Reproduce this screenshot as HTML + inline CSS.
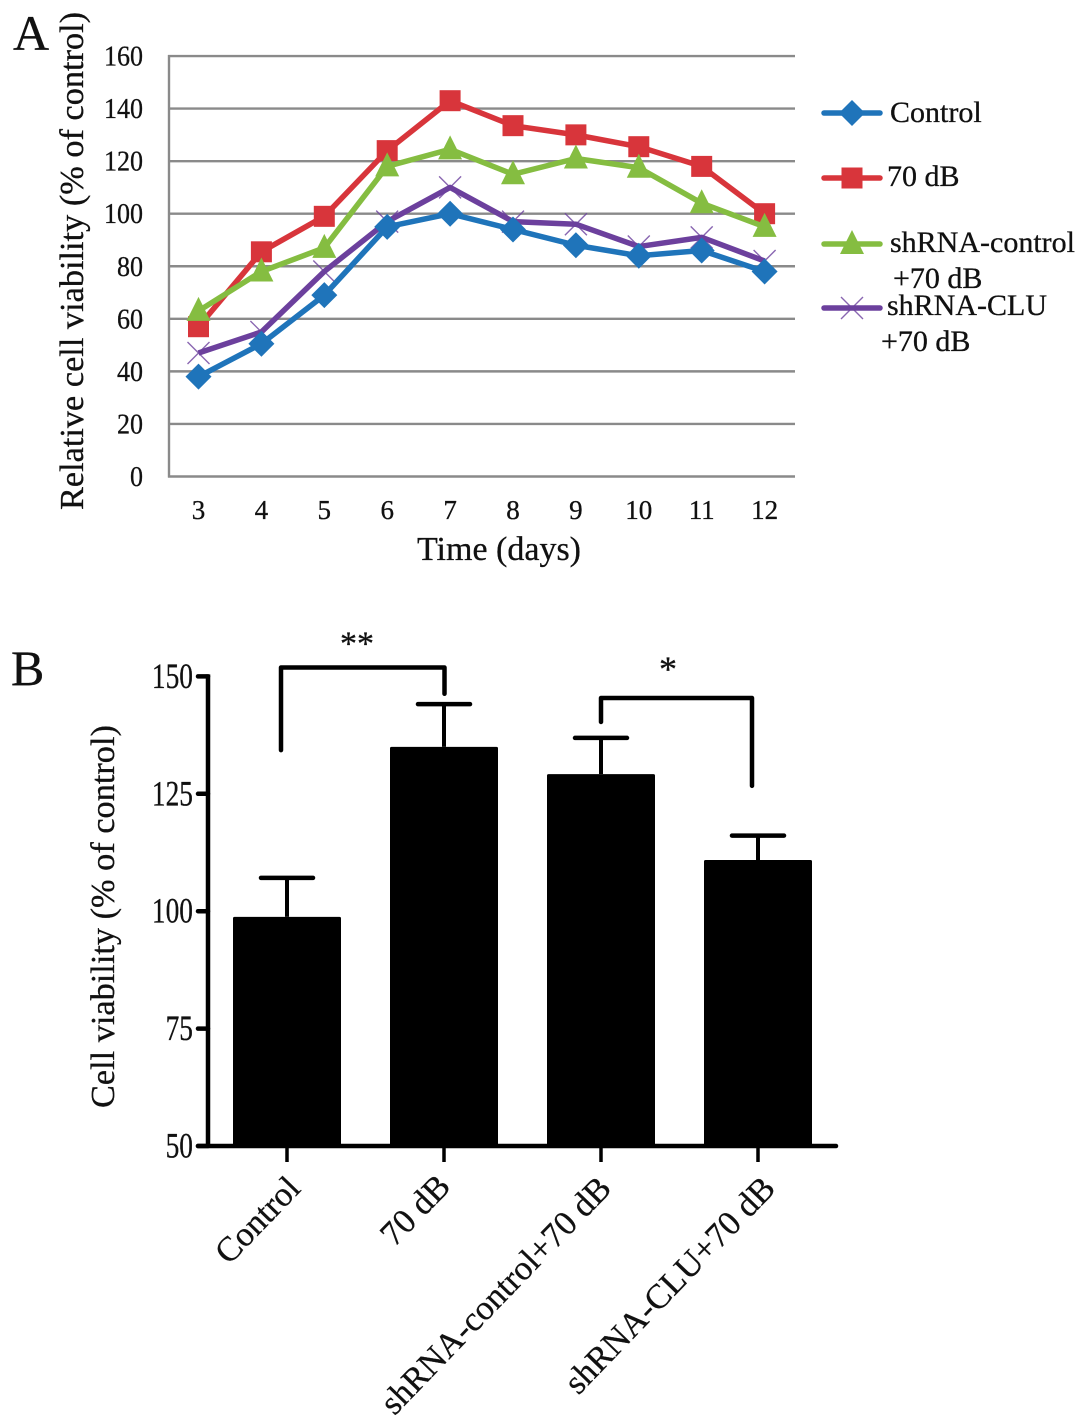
<!DOCTYPE html>
<html lang="en">
<head>
<meta charset="utf-8">
<title>Cell viability charts</title>
<style>
html,body{margin:0;padding:0;background:#fff;}
svg{display:block;}
text{font-family:"Liberation Serif",serif;fill:#111;stroke:#111;stroke-width:.3px;}
</style>
</head>
<body>
<svg id="figure" width="1087" height="1422" viewBox="0 0 1087 1422" xmlns="http://www.w3.org/2000/svg">
  <rect width="1087" height="1422" fill="#fff"/>
  <text x="13" y="50" font-size="50">A</text>
  <text x="11" y="685" font-size="50">B</text>
  <text transform="translate(83,510) rotate(-90)" font-size="34.3">Relative cell viability (% of control)</text>
  <text x="499" y="560" font-size="34" text-anchor="middle">Time (days)</text>
  <text transform="translate(114,1108) rotate(-90)" font-size="34.3">Cell viability (% of control)</text>
  <g id="panelA"></g>
  <g id="panelB"></g>
</svg>
<script>
// Panel A data
const dayLabels = ['3','4','5','6','7','8','9','10','11','12'];
const viabilityTicks = [0,20,40,60,80,100,120,140,160];
const controlValues = [38,50.5,69,95,100,94,88,84,86,78];
const db70Values = [57,85.5,99,124,143,133.5,130,125.5,118,100];
const shControlValues = [63,78,87,118,124.5,115,121,117.5,104,95];
const shCluValues = [47,55,78,97,110,97,96,87.5,91,82];

// Panel B data
const groupLabels = ['Control','70 dB','shRNA-control+70 dB','shRNA-CLU+70 dB'];
const groupMeans = [98.8,135,129.2,110.9];
const groupErrorTops = [107.1,144.1,136.9,116.1];
const barTicks = [50,75,100,125,150];
const bracketFromGroup = [0,2];
const bracketToGroup = [1,3];
const bracketTopValues = [151.9,145.4];
const bracketLeftEndValues = [134.3,140.3];
const bracketRightEndValues = [146.3,126.7];
const bracketMarks = ['**','*'];

const NS = 'http://www.w3.org/2000/svg';
function mk(tag, attrs, parent, txt){
  const el = document.createElementNS(NS, tag);
  for (const k in attrs) el.setAttribute(k, attrs[k]);
  if (txt !== undefined) el.textContent = txt;
  parent.appendChild(el);
  return el;
}

/* ---------- Panel A ---------- */
const gA = document.getElementById('panelA');
const xA = i => 198.5 + 62.9 * i;
const yA = v => 476.5 - v * 2.628;
const GRID = '#8a8a8a';

viabilityTicks.forEach(t => {
  const line = mk('line', {x1:168, x2:795, y1:yA(t), y2:yA(t), stroke:GRID, 'stroke-width':2.4}, gA);
  
  
  const s = String(t);
  const lab = mk('text', {x:143, y:yA(t)+9.5, 'font-size':28, 'text-anchor':'end', fill:'#1c1c3a', textLength:s.length*13, lengthAdjust:'spacingAndGlyphs'}, gA, s);
  
  
});
const axisA = mk('line', {x1:169, x2:169, y1:yA(160)-1, y2:yA(0)+1, stroke:GRID, 'stroke-width':2.4}, gA);



dayLabels.forEach((d,i) => {
  const lab = mk('text', {x:xA(i), y:519, 'font-size':27, 'text-anchor':'middle', fill:'#1c1c3a'}, gA, d);
  
  
});

function marker(kind, cx, cy, color, parent){
  let el;
  if (kind === 'diamond') {
    el = mk('polygon', {points:[cx,cy-13,cx+13,cy,cx,cy+13,cx-13,cy].join(' '), fill:color}, parent);
  } else if (kind === 'square') {
    el = mk('rect', {x:cx-10.5, y:cy-10.5, width:21, height:21, fill:color}, parent);
  } else if (kind === 'triangle') {
    el = mk('polygon', {points:[cx,cy-14,cx+12,cy+10,cx-12,cy+10].join(' '), fill:color}, parent);
  } else {
    el = mk('path', {d:`M${cx-11} ${cy-11}L${cx+11} ${cy+11}M${cx+11} ${cy-11}L${cx-11} ${cy+11}`, stroke:color, 'stroke-width':1.4, fill:'none', opacity:.8}, parent);
  }
  return el;
}

function drawSeries(name, values, color, kind){
  const g = mk('g', {}, gA);
  
  
  const line = mk('polyline', {points:values.map((v,i)=>xA(i)+','+yA(v)).join(' '), fill:'none', stroke:color, 'stroke-width':5.5, 'stroke-linejoin':'round'}, g);
  
  
  values.forEach((v,i) => {
    const m = marker(kind, xA(i), yA(v), color, g);
    
    
  });
}
const BLUE = '#1f74ba', RED = '#d8353b', GREEN = '#85bd41', PURPLE = '#6c409d';
drawSeries('shrna-clu', shCluValues, PURPLE, 'x');
drawSeries('db70', db70Values, RED, 'square');
drawSeries('shrna-control', shControlValues, GREEN, 'triangle');
drawSeries('control', controlValues, BLUE, 'diamond');

function legendEntry(name, y, color, kind, lines){
  const g = mk('g', {}, gA);
  
  
  const l = mk('line', {x1:824, x2:880, y1:y, y2:y, stroke:color, 'stroke-width':5.5, 'stroke-linecap':'round'}, g);
  
  
  const m = marker(kind, 852, y, color, g);
  
  
  lines.forEach(t => {
    const tx = mk('text', {x:t[0], y:t[1], 'font-size':30}, g, t[2]);
    
    
  });
}
legendEntry('legend-entry-control', 113, BLUE, 'diamond', [[890,122,'Control']]);
legendEntry('legend-entry-70-db', 178, RED, 'square', [[887,186,'70 dB']]);
legendEntry('legend-entry-shrna-control', 244, GREEN, 'triangle', [[890,252,'shRNA-control'],[893,288,'+70 dB']]);
legendEntry('legend-entry-shrna-clu', 308, PURPLE, 'x', [[887,315,'shRNA-CLU'],[881,351,'+70 dB']]);

/* ---------- Panel B ---------- */
const gB = document.getElementById('panelB');
const xB = i => 287 + 157 * i;
const yB = v => 1146 - (v - 50) * 4.696;

groupMeans.forEach((v,i) => {
  const bar = mk('rect', {x:xB(i)-54, y:yB(v), width:108, height:yB(50)-yB(v), rx:1.5, fill:'#000'}, gB);
  
  
  const stem = mk('line', {x1:xB(i), x2:xB(i), y1:yB(v), y2:yB(groupErrorTops[i]), stroke:'#000', 'stroke-width':4}, gB);
  
  
  const cap = mk('line', {x1:xB(i)-26, x2:xB(i)+26, y1:yB(groupErrorTops[i]), y2:yB(groupErrorTops[i]), stroke:'#000', 'stroke-width':4.5, 'stroke-linecap':'round'}, gB);
  
  
});

const axisBY = mk('line', {x1:208, x2:208, y1:yB(150)-2, y2:yB(50)+2, stroke:'#000', 'stroke-width':4.5}, gB);


const axisBX = mk('line', {x1:198, x2:836, y1:yB(50), y2:yB(50), stroke:'#000', 'stroke-width':4.5, 'stroke-linecap':'round'}, gB);



barTicks.forEach(t => {
  const tick = mk('line', {x1:198, x2:208, y1:yB(t), y2:yB(t), stroke:'#000', 'stroke-width':4.5, 'stroke-linecap':'round'}, gB);
  
  
  const s = String(t);
  const lab = mk('text', {x:193, y:yB(t)+11.5, 'font-size':36, 'text-anchor':'end', textLength:s.length*13.7, lengthAdjust:'spacingAndGlyphs'}, gB, s);
  
  
});

const labelEnds = [[302,1190],[452,1188],[613,1190],[777,1190]];
groupLabels.forEach((g,i) => {
  const tick = mk('line', {x1:xB(i), x2:xB(i), y1:yB(50), y2:1162, stroke:'#000', 'stroke-width':3.5}, gB);
  
  
  const lab = mk('text', {transform:`translate(${labelEnds[i][0]},${labelEnds[i][1]}) rotate(-46)`, 'font-size':34.4, 'text-anchor':'end'}, gB, g);
  
  
});

bracketMarks.forEach((mark,i) => {
  const leftX = xB(bracketFromGroup[i]) + (i === 0 ? -6 : 0);
  const rightX = xB(bracketToGroup[i]) + (i === 0 ? 0.5 : -6);
  const top = yB(bracketTopValues[i]);
  const br = mk('path', {d:`M${leftX} ${yB(bracketLeftEndValues[i])}L${leftX} ${top}L${rightX} ${top}L${rightX} ${yB(bracketRightEndValues[i])}`, fill:'none', stroke:'#000', 'stroke-width':4.5, 'stroke-linecap':'round', 'stroke-linejoin':'round'}, gB);
  
  
  const lab = mk('text', {x:i === 0 ? 357 : 668, y:top + (i === 0 ? -13 : -17), 'font-size':i === 0 ? 34 : 36, 'text-anchor':'middle'}, gB, mark);
  
  
});
</script>
</body>
</html>
